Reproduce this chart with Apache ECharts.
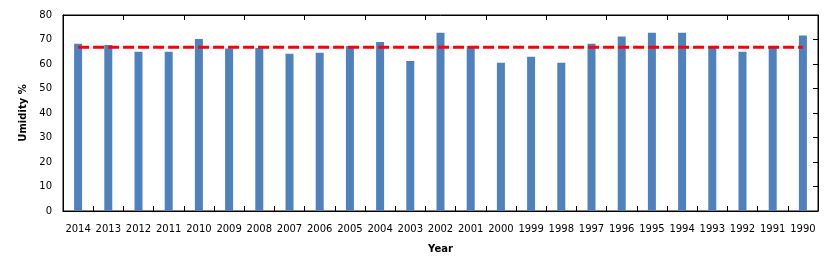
<!DOCTYPE html>
<html><head><meta charset="utf-8">
<script src="https://cdn.jsdelivr.net/npm/echarts@6/dist/echarts.min.js"></script>
<style>html,body{margin:0;padding:0;background:#fff}#c{width:834px;height:262px}</style>
</head><body><div id="c"></div>
<script>
const years = ['2014','2013','2012','2011','2010','2009','2008','2007','2006','2005','2004','2003','2002','2001','2000','1999','1998','1997','1996','1995','1994','1993','1992','1991','1990'];
const humidity = [68.3,67.8,65.0,65.0,70.2,66.3,66.5,64.2,64.6,67.3,69.0,61.2,72.8,67.3,60.5,63.0,60.5,68.3,71.2,72.8,72.8,66.9,65.0,66.5,71.6];
const meanLine = [66.8,66.8,66.8,66.8,66.8,66.8,66.8,66.8,66.8,66.8,66.8,66.8,66.8,66.8,66.8,66.8,66.8,66.8,66.8,66.8,66.8,66.8,66.8,66.8,66.8];
const yTicks = [0,10,20,30,40,50,60,70,80];

const chart = echarts.init(document.getElementById('c'));
const font = 'DejaVu Sans';
chart.setOption({
  animation: false,
  grid: {left: 63, right: 16, top: 15, bottom: 51, containLabel: false, show: true, borderColor: '#000', borderWidth: 1, backgroundColor: 'transparent'},
  xAxis: [{
    type: 'category', data: years, position: 'bottom', boundaryGap: true,
    axisLine: {show: true, onZero: false, lineStyle: {color: '#000', width: 1}},
    axisTick: {show: true, inside: true, length: 5, lineStyle: {color: '#000'}},
    axisLabel: {color: '#000', fontFamily: font, fontSize: 10, margin: 13, interval: 0},
    name: 'Year', nameLocation: 'middle', nameGap: 33,
    nameTextStyle: {color: '#000', fontFamily: font, fontSize: 10, fontWeight: 'bold'}
  }, {
    type: 'category', data: years, position: 'top', boundaryGap: true,
    axisLine: {show: true, onZero: false, lineStyle: {color: '#000', width: 1}},
    axisTick: {show: true, inside: true, length: 5, lineStyle: {color: '#000'}},
    axisLabel: {show: false}
  }],
  yAxis: [{
    type: 'value', min: yTicks[0], max: yTicks[yTicks.length-1], interval: 10, position: 'left',
    axisLine: {show: true, onZero: false, lineStyle: {color: '#000', width: 1}},
    axisTick: {show: false},
    splitLine: {show: false},
    axisLabel: {color: '#000', fontFamily: font, fontSize: 10, margin: 11},
    name: 'Umidity %', nameLocation: 'middle', nameGap: 31, nameRotate: 90,
    nameTextStyle: {color: '#000', fontFamily: font, fontSize: 10, fontWeight: 'bold'}
  }, {
    type: 'value', min: yTicks[0], max: yTicks[yTicks.length-1], interval: 10, position: 'right',
    axisLine: {show: true, onZero: false, lineStyle: {color: '#000', width: 1}},
    axisTick: {show: true, inside: true, length: 5, lineStyle: {color: '#000'}},
    splitLine: {show: false},
    axisLabel: {show: false}
  }],
  series: [{
    type: 'bar', data: humidity, barWidth: 8, xAxisIndex: 0, yAxisIndex: 0,
    itemStyle: {color: '#4F81BD'}
  }, {
    type: 'line', data: meanLine, xAxisIndex: 0, yAxisIndex: 0,
    symbol: 'none', lineStyle: {color: '#FF0000', width: 3, type: [11, 4]}, z: 5
  }]
});
</script></body></html>
